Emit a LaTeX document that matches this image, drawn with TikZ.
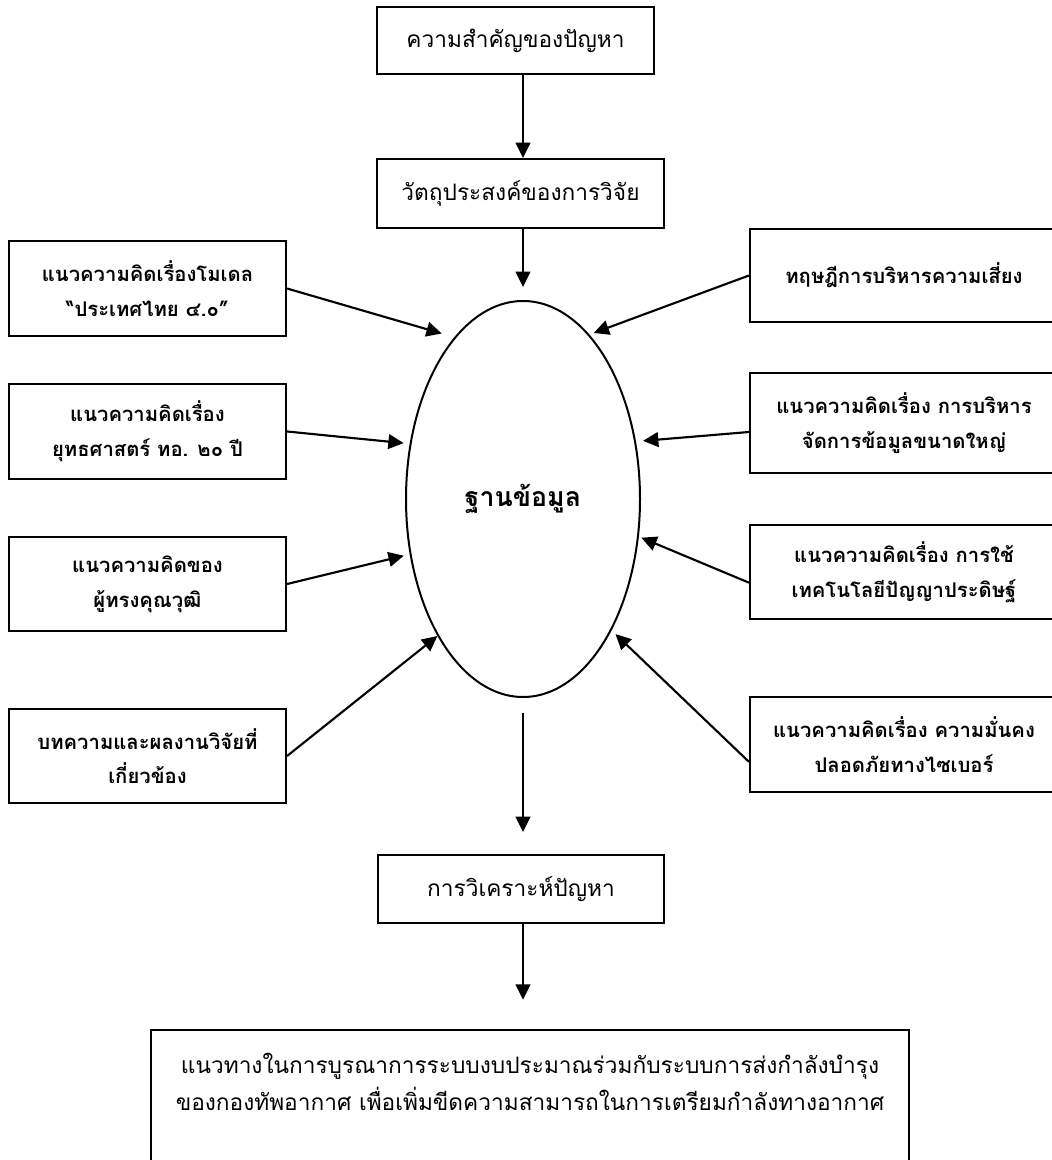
\documentclass[tikz,border=0pt]{standalone}
\usepackage{fontspec}
\newfontfamily\thaifont[Script=Thai]{Loma}
\usetikzlibrary{arrows.meta,shapes.geometric}
\begin{document}
\begin{tikzpicture}[x=0.75pt,y=-0.75pt,
  wh/.style 2 args={minimum width=#1*0.75pt, minimum height=#2*0.75pt},
  plainbox/.style={draw, line width=1.6pt, inner sep=0pt, align=center,
    font=\thaifont\fontsize{17}{28}\selectfont},
  conceptbox/.style={draw, line width=1.6pt, inner sep=0pt, align=center,
    font=\thaifont\bfseries\fontsize{15.2}{26}\selectfont},
  flow/.style={line width=1.6pt, -{Triangle[length=11.5pt,width=11pt]}}
]
\useasboundingbox (0,0) rectangle (1052,1160);
\clip (0,0) rectangle (1052,1160);

% main flow
\node[plainbox, wh={277}{67}] (t1) at (515.5,40.5) {ความสำคัญของปัญหา};
\node[plainbox, wh={287}{69}] (t2) at (520.5,193.5) {วัตถุประสงค์ของการวิจัย};
\node[draw, ellipse, line width=1.5pt, inner sep=0pt,
      minimum width=234*0.75pt, minimum height=396*0.75pt,
      font=\thaifont\bfseries\fontsize{20}{24}\selectfont] (db) at (523,499) {ฐานข้อมูล};
\node[plainbox, wh={286}{68}] (b1) at (521,889) {การวิเคราะห์ปัญหา};
\node[plainbox, minimum width=758*0.75pt, anchor=north, inner ysep=17pt] (fin) at (530,1029)
  {แนวทางในการบูรณาการระบบงบประมาณร่วมกับระบบการส่งกำลังบำรุง\\
   ของกองทัพอากาศ เพื่อเพิ่มขีดความสามารถในการเตรียมกำลังทางอากาศ\\[60pt]\mbox{}};

% concepts on the left
\node[conceptbox, wh={277}{95}] (l1) at (147.5,288.5) {แนวความคิดเรื่องโมเดล\\“ประเทศไทย ๔.๐”};
\node[conceptbox, wh={277}{95}] (l2) at (147.5,431.5) {แนวความคิดเรื่อง\\ยุทธศาสตร์ ทอ. ๒๐ ปี};
\node[conceptbox, wh={277}{94}] (l3) at (147.5,584) {แนวความคิดของ\\ผู้ทรงคุณวุฒิ};
\node[conceptbox, wh={277}{94}] (l4) at (147.5,756) {บทความและผลงานวิจัยที่\\เกี่ยวข้อง};

% concepts on the right
\node[conceptbox, wh={308}{93}] (r1) at (904,275.5) {ทฤษฎีการบริหารความเสี่ยง};
\node[conceptbox, wh={308}{100}] (r2) at (904,423) {แนวความคิดเรื่อง การบริหาร\\จัดการข้อมูลขนาดใหญ่};
\node[conceptbox, wh={308}{94}] (r3) at (904,572) {แนวความคิดเรื่อง การใช้\\เทคโนโลยีปัญญาประดิษฐ์};
\node[conceptbox, wh={308}{95}] (r4) at (904,744.5) {แนวความคิดเรื่อง ความมั่นคง\\ปลอดภัยทางไซเบอร์};

% vertical connectors
\draw[flow] (t1.south -| db) -- (t2.north -| db);
\draw[flow, shorten >=9.75pt] (t2.south -| db) -- (db.north);
\draw[flow, shorten <=11pt, shorten >=16.5pt] (db.south) -- (b1.north -| db);
\draw[flow, shorten >=22pt] (b1.south -| db) -- (fin.north -| db);

% connectors into the database
\draw[flow, shorten >=9.8pt] (l1.east) -- (db.113);
\draw[flow, shorten >=4.5pt] (l2.east) -- (db.154);
\draw[flow, shorten >=4.5pt] (l3.east) -- (db.206);
\draw[flow] (l4.east) -- (db.238);
\draw[flow, shorten >=3.4pt] (r1.west) -- (db.68);
\draw[flow, shorten >=5.3pt] ([yshift=-6.75pt]r2.west) -- (db.27);
\draw[flow, shorten >=2pt] ([yshift=-8pt]r3.west) -- (db.342);
\draw[flow, shorten >=4pt] ([yshift=-13pt]r4.west) -- (db.304);
\end{tikzpicture}
\end{document}
